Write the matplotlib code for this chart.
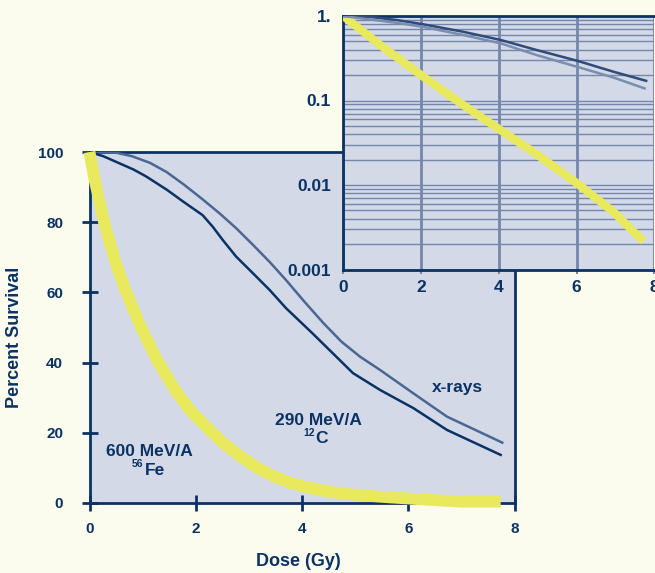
import numpy as np
import matplotlib.pyplot as plt
from matplotlib.ticker import LogLocator, NullFormatter

plt.rcParams['font.family'] = ['Liberation Sans', 'DejaVu Sans']
plt.rcParams['font.weight'] = 'bold'

# Couleurs
cream = '#fbfbee'
panel = '#d3d9e7'
navy = '#0b3264'
slate = '#4a6793'
grille = '#7487ab'
jaune = '#e9e95d'

# Courbes de survie, échelle linéaire (%)
doseXray = [0, 0.5, 0.8, 1.14, 1.45, 1.77, 2.13, 2.45, 2.76, 3.08, 3.39, 3.7, 4.02, 4.4,
            4.74, 5.1, 5.47, 6.1, 6.73, 7.77]
survXray = [100, 99.8, 98.8, 96.9, 94.3, 90.8, 86.5, 82.5, 78.3, 73.5, 68.7, 63.5, 57.8, 51.3,
            46, 41.6, 37.9, 31.2, 24.6, 17.2]

doseC = [0, 0.26, 0.83, 1.07, 1.46, 1.77, 2.13, 2.32, 2.51, 2.76, 3.08, 3.39, 3.7, 4.2,
         4.96, 5.47, 6.1, 6.73, 7.74]
survC = [100, 98.8, 95.0, 93.0, 89.2, 85.8, 82.0, 78.7, 74.9, 70.2, 65.4, 60.7, 55.5, 48.3,
         37, 32.2, 27, 20.8, 13.7]

doseFe = [0, 0.09, 0.28, 0.5, 0.68, 0.97, 1.28, 1.62, 1.9, 2.26, 2.51, 2.82, 3.14, 3.45,
          3.77, 4.08, 4.52, 5.02, 5.65, 6.3, 6.98, 7.74]
survFe = [100, 92.5, 79.7, 68, 60.5, 50, 40.5, 32, 26.3, 20.8, 17.2, 13.5, 10.2, 7.7,
          5.8, 4.5, 3.2, 2.3, 1.6, 1.0, 0.4, 0.4]

# Courbes de survie, échelle log (fraction)
doseLogA = [0, 0.6, 1.37, 2.04, 3.09, 4.05, 4.98, 6.02, 6.95, 7.79]
survLogA = [1, 0.985, 0.897, 0.80, 0.65, 0.52, 0.395, 0.295, 0.219, 0.171]

doseLogB = [0, 0.6, 1.37, 2.04, 3.09, 4.05, 4.98, 6.02, 6.95, 7.75]
survLogB = [1, 0.92, 0.83, 0.746, 0.595, 0.474, 0.344, 0.25, 0.187, 0.139]

doseLogFe = [0, 0.95, 2.04, 3.09, 4.05, 4.98, 6.02, 6.95, 7.72]
survLogFe = [1.0, 0.453, 0.194, 0.088, 0.0445, 0.023, 0.0104, 0.0048, 0.00216]

xTicks = [0, 2, 4, 6, 8]
yTicks = [0, 20, 40, 60, 80, 100]
logTicks = [1, 0.1, 0.01, 0.001]
logLabels = ['1.', '0.1', '0.01', '0.001']

W, H = 655, 573
fig = plt.figure(figsize=(W / 100, H / 100), dpi=100, facecolor=cream)

# Graphe principal
ax = fig.add_axes([89.5 / W, 1 - 503 / H, 425 / W, 351 / H], facecolor=panel)
ax.plot(doseXray, survXray, color=slate, lw=1.8, zorder=3)
ax.plot(doseC, survC, color=navy, lw=1.8, zorder=3)
ax.plot(doseFe, survFe, color=jaune, lw=8.5, solid_capstyle='butt', solid_joinstyle='round',
        zorder=4, clip_on=False)
ax.set_xlim(0, 8)
ax.set_ylim(0, 100)
ax.set_xticks(xTicks)
ax.set_yticks(yTicks)
for s in ax.spines.values():
    s.set_color(navy)
    s.set_linewidth(2)
ax.tick_params(direction='inout', length=11.5, width=2, color=navy,
               labelcolor=navy, labelsize=11)
ax.tick_params(axis='y', pad=13.3)
ax.tick_params(axis='x', pad=7.6)

ax.text(6.93, 32.8, 'x-rays', color=navy, fontsize=12.5, ha='center', va='center')
ax.text(4.31, 23.6, '290 MeV/A', color=navy, fontsize=12.5, ha='center', va='center')
ax.text(4.37, 18.3, 'C', color=navy, fontsize=12.5, ha='center', va='center')
ax.text(4.14, 19.9, '12', color=navy, fontsize=7.5, ha='center', va='center')
ax.text(1.12, 14.6, '600 MeV/A', color=navy, fontsize=12.5, ha='center', va='center')
ax.text(1.23, 9.2, 'Fe', color=navy, fontsize=12.5, ha='center', va='center')
ax.text(0.90, 11.1, '56', color=navy, fontsize=7.5, ha='center', va='center')

fig.text(15 / W, 1 - 337 / H, 'Percent Survival', rotation=90, color=navy,
         fontsize=13, ha='center', va='center')
fig.text(298 / W, 1 - 562 / H, 'Dose (Gy)', color=navy, fontsize=13,
         ha='center', va='center')

# Encart en échelle log
ins = fig.add_axes([343.3 / W, 1 - 269.5 / H, 311 / W, 253.5 / H], facecolor=panel)
ins.set_yscale('log')
ins.set_xlim(0, 8)
ins.set_ylim(0.001, 1)
ins.grid(True, which='both', axis='y', color=grille, lw=1)
ins.grid(True, which='major', axis='x', color=grille, lw=2)
ins.set_axisbelow(True)
ins.plot(doseLogFe, survLogFe, color=jaune, lw=6, solid_capstyle='butt', zorder=3)
ins.plot(doseLogA, survLogA, color='#2e4b7a', lw=1.8, zorder=4)
ins.plot(doseLogB, survLogB, color='#7a8db0', lw=1.8, zorder=4)
ins.set_xticks(xTicks)
ins.set_yticks(logTicks)
ins.set_yticklabels(logLabels)
ins.yaxis.set_minor_locator(LogLocator(base=10, subs=np.arange(2, 10)))
ins.yaxis.set_minor_formatter(NullFormatter())
for s in ins.spines.values():
    s.set_color(navy)
    s.set_linewidth(2)
ins.spines['right'].set_visible(False)
ins.tick_params(axis='y', which='both', length=0, pad=8.8, labelcolor=navy, labelsize=12.5)
ins.tick_params(axis='x', length=3, width=1.5, color=grille, pad=4.9,
                labelcolor=navy, labelsize=12.5)

fig.savefig('out.png', dpi=100, facecolor=cream)
